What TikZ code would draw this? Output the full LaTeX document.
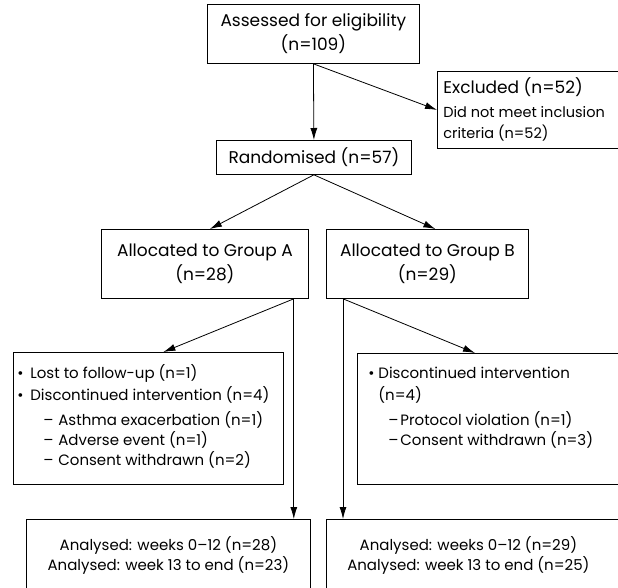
\documentclass[tikz,border=0pt]{standalone}
\usepackage{fontspec}
\setmainfont{Poppins}
\usetikzlibrary{arrows.meta}
\newcommand\flowfont{\fontsize{17}{24}\selectfont}
\newcommand\listfont{\fontsize{15}{20}\selectfont}
\newcommand\flowsmall{\fontsize{14.5}{21}\selectfont}

\begin{document}
\begin{tikzpicture}[x=1pt, y=-1pt, line width=0.8pt, >={Latex[length=12pt,width=7pt]},
  box/.style={draw, inner sep=0pt, anchor=north west, font=\flowfont},
  cbox/.style={box, align=center}]
\useasboundingbox (0,0) rectangle (618,587);
\clip (0,0) rectangle (618,587);

\node[cbox, minimum width=212pt, minimum height=59pt] (assessed) at (207,4) {Assessed for eligibility\\(n=109)};
\node[box] (excluded) at (437,71) {\parbox[t][77pt][t]{190pt}{\fontsize{17}{21}\selectfont
  \rule{0pt}{22pt}\hspace*{6pt}Excluded (n=52)\\[3pt]
  {\flowsmall\hspace*{6pt}Did not meet inclusion\\\hspace*{6pt}criteria (n=52)}}};
\node[cbox, minimum width=195pt, minimum height=34pt] (random) at (216,140) {Randomised (n=57)};
\node[cbox, minimum width=207pt, minimum height=69pt] (groupA) at (101,229) {Allocated to Group A\\(n=28)};
\node[cbox, minimum width=202pt, minimum height=69pt] (groupB) at (326,229) {Allocated to Group B\\(n=29)};

\node[box] (lossA) at (13,352) {\parbox[t][132pt][t]{270pt}{\listfont
  \rule{0pt}{26pt}\hspace*{4pt}\makebox[13pt][l]{•}Lost to follow-up (n=1)\\[2pt]
  \hspace*{4pt}\makebox[13pt][l]{•}Discontinued intervention (n=4)\\[5pt]
  \hspace*{30pt}\makebox[15pt][l]{–}Asthma exacerbation (n=1)\\
  \hspace*{30pt}\makebox[15pt][l]{–}Adverse event (n=1)\\
  \hspace*{30pt}\makebox[15pt][l]{–}Consent withdrawn (n=2)}};
\node[box] (lossB) at (357,353) {\parbox[t][131pt][t]{270pt}{\listfont
  \rule{0pt}{25pt}\hspace*{11pt}\makebox[10pt][l]{•}Discontinued intervention\\[2pt]
  \hspace*{21pt}(n=4)\\[5pt]
  \hspace*{31pt}\makebox[12pt][l]{–}Protocol violation (n=1)\\
  \hspace*{31pt}\makebox[12pt][l]{–}Consent withdrawn (n=3)}};

\node[cbox, minimum width=284pt, minimum height=72pt, font=\listfont] (analA) at (26,519)
  {Analysed: weeks 0--12 (n=28)\\Analysed: week 13 to end (n=23)};
\node[box, minimum height=72pt, font=\listfont] (analB) at (326,519)
  {\parbox{284pt}{\centering Analysed: weeks 0--12 (n=29)\\Analysed: week 13 to end (n=25)}\hspace*{20pt}};

\coordinate (splitA) at ([xshift=-15pt]groupA.south east);
\coordinate (splitB) at ([xshift=17pt]groupB.south west);

\draw[->] (assessed.south) -- (random.north);
\draw[->] (assessed.south) -- (excluded.west);
\draw[->] (random.south) -- ([xshift=5pt]groupA.north);
\draw[->] (random.south) -- ([xshift=8pt]groupB.north);
\draw[->] (splitA) -- ([xshift=15pt]lossA.north);
\draw[->] (splitB) -- ([xshift=118pt]lossB.north west);
\foreach \g in {A,B}
  \draw[->] (split\g) -- (split\g |- anal\g.north);
\end{tikzpicture}
\end{document}
